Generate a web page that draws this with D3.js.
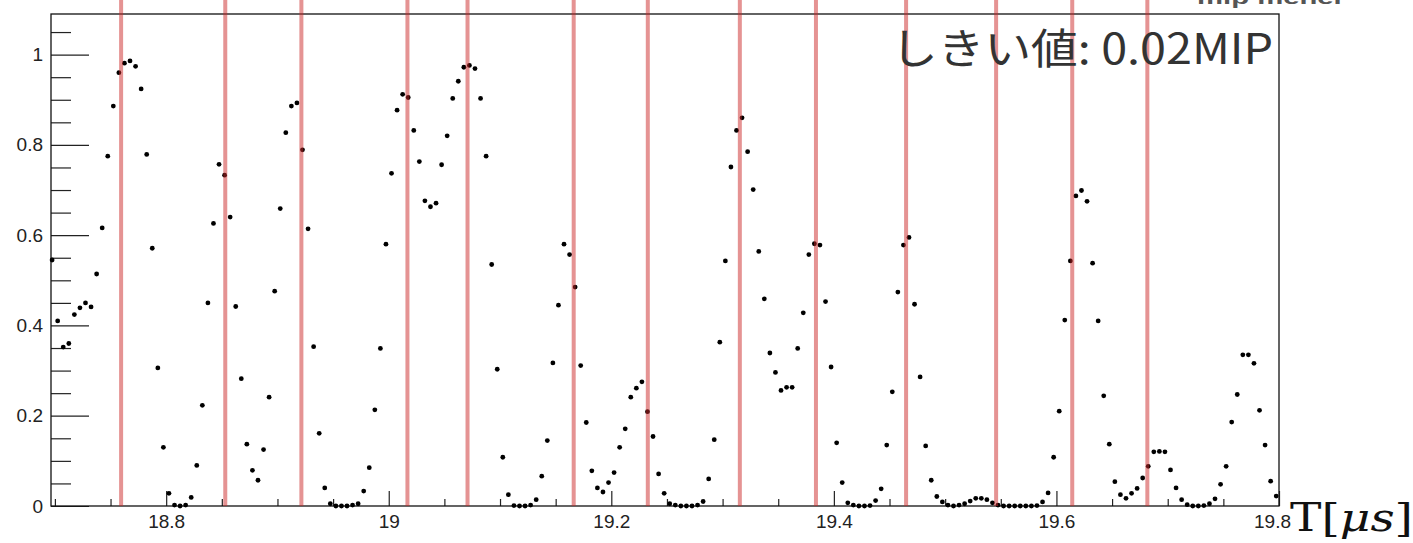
<!DOCTYPE html>
<html>
<head>
<meta charset="utf-8">
<script src="https://cdn.jsdelivr.net/npm/d3@7"></script>
<style>
  body { margin: 0; background: #fff; }
  svg { display: block; font-family: "Liberation Sans", Arial, Helvetica, sans-serif; }
</style>
</head>
<body>
<script>
// histogram: 5 ns bins starting at 18.695 us
var binStart = 18.695, binWidth = 0.005;

// bin contents
var counts = [
  0.545, 0.41, 0.352, 0.36, 0.424, 0.439, 0.45, 0.441, 0.514, 0.616,
  0.775, 0.886, 0.96, 0.981, 0.986, 0.974, 0.924, 0.779, 0.571, 0.306,
  0.13, 0.028, 0.002, 0.0, 0.002, 0.019, 0.09, 0.223, 0.45, 0.626,
  0.757, 0.733, 0.64, 0.442, 0.282, 0.137, 0.079, 0.057, 0.125, 0.241,
  0.476, 0.659, 0.827, 0.886, 0.893, 0.789, 0.614, 0.353, 0.161, 0.04,
  0.005, 0, 0, 0, 0.002, 0.005, 0.033, 0.085, 0.213, 0.349,
  0.58, 0.737, 0.877, 0.912, 0.905, 0.832, 0.763, 0.676, 0.663, 0.671,
  0.756, 0.82, 0.903, 0.941, 0.972, 0.976, 0.969, 0.903, 0.775, 0.535,
  0.303, 0.108, 0.025, 0.001, 0, 0, 0.002, 0.014, 0.066, 0.145,
  0.317, 0.445, 0.58, 0.557, 0.485, 0.311, 0.185, 0.078, 0.04, 0.031,
  0.052, 0.074, 0.13, 0.171, 0.241, 0.261, 0.275, 0.209, 0.154, 0.071,
  0.028, 0.005, 0.002, 0, 0, 0, 0.002, 0.01, 0.06, 0.147,
  0.363, 0.543, 0.751, 0.832, 0.86, 0.785, 0.701, 0.564, 0.459, 0.339,
  0.296, 0.256, 0.263, 0.263, 0.349, 0.428, 0.557, 0.581, 0.578, 0.453,
  0.308, 0.14, 0.052, 0.007, 0.002, 0, 0, 0.001, 0.012, 0.038,
  0.135, 0.253, 0.474, 0.578, 0.595, 0.447, 0.286, 0.133, 0.057, 0.021,
  0.009, 0.002, 0, 0.002, 0.005, 0.011, 0.017, 0.017, 0.014, 0.007,
  0.002, 0, 0, 0, 0, 0, 0, 0.001, 0.009, 0.029,
  0.108, 0.21, 0.412, 0.543, 0.687, 0.699, 0.675, 0.538, 0.41, 0.244,
  0.137, 0.054, 0.025, 0.017, 0.028, 0.039, 0.062, 0.088, 0.12, 0.121,
  0.12, 0.08, 0.04, 0.014, 0.003, 0, 0, 0.001, 0.005, 0.016,
  0.048, 0.088, 0.186, 0.247, 0.335, 0.335, 0.316, 0.212, 0.135, 0.055,
  0.022
];

// red markers (us)
var cutTimes = [18.7595, 18.8531, 18.9215, 19.0168, 19.0708, 19.1662, 19.2328,
                19.3155, 19.3839, 19.4649, 19.5458, 19.6142, 19.6817];

var xMajor = [18.8, 19, 19.2, 19.4, 19.6, 19.8];
var xLabels = ["18.8", "19", "19.2", "19.4", "19.6", "19.8"];
var yMajor = [0, 0.2, 0.4, 0.6, 0.8, 1];
var yLabels = ["0", "0.2", "0.4", "0.6", "0.8", "1"];
var thresholdText = "しきい値: 0.02MIP";

var W = 1413, H = 543;
var plotL = 51, plotR = 1279, plotT = 14, plotB = 506;

var svg = d3.select("body").append("svg")
  .attr("width", W)
  .attr("height", H);

var x = d3.scaleLinear().domain([18.6965, 19.8]).range([plotL, plotR]);
var y = d3.scaleLinear().domain([0, 1.09]).range([plotB, plotT]);

// minor ticks every 0.05
var xMinor = d3.range(0, 23).map(function(i){ return 18.7 + i * 0.05; })
  .filter(function(v){ return !xMajor.some(function(m){ return Math.abs(m - v) < 1e-6; }); });
var yMinor = d3.range(0, 22).map(function(i){ return i * 0.05; })
  .filter(function(v){ return !yMajor.some(function(m){ return Math.abs(m - v) < 1e-6; }); });

// x axis
svg.append("g")
  .attr("transform", "translate(0," + plotB + ")")
  .call(d3.axisBottom(x).tickValues(xMinor).tickSize(-7).tickFormat(""))
  .call(function(g){ g.select(".domain").remove(); });

var xAx = svg.append("g")
  .attr("transform", "translate(0," + plotB + ")")
  .call(d3.axisBottom(x).tickValues(xMajor).tickSize(-15).tickPadding(9)
    .tickFormat(function(d, i){ return xLabels[i]; }));
xAx.select(".domain").remove();
xAx.selectAll("text").attr("font-size", 19).attr("font-family", "Liberation Sans, Arial, sans-serif").attr("fill", "#222");
xAx.selectAll(".tick").filter(function(d, i){ return i === xMajor.length - 1; })
  .select("text").attr("dx", -7);

// y axis
svg.append("g")
  .attr("transform", "translate(" + plotL + ",0)")
  .call(d3.axisLeft(y).tickValues(yMinor).tickSize(-20).tickFormat(""))
  .call(function(g){ g.select(".domain").remove(); });

var yAx = svg.append("g")
  .attr("transform", "translate(" + plotL + ",0)")
  .call(d3.axisLeft(y).tickValues(yMajor).tickSize(-38).tickPadding(8)
    .tickFormat(function(d, i){ return yLabels[i]; }));
yAx.select(".domain").remove();
yAx.selectAll("text").attr("font-size", 19).attr("font-family", "Liberation Sans, Arial, sans-serif").attr("fill", "#222");

svg.selectAll(".tick line").attr("stroke", "#222").attr("stroke-width", 1.2);

// frame
svg.append("rect")
  .attr("x", plotL).attr("y", plotT)
  .attr("width", plotR - plotL).attr("height", plotB - plotT)
  .attr("fill", "none").attr("stroke", "#111").attr("stroke-width", 1.3);

// points
svg.append("g").selectAll("circle")
  .data(counts)
  .enter().append("circle")
    .attr("cx", function(d, i){ return x(binStart + (i + 0.5) * binWidth); })
    .attr("cy", function(d){ return y(d); })
    .attr("r", 2.4)
    .attr("fill", "#000");

// red lines on top
svg.append("g").selectAll("line")
  .data(cutTimes)
  .enter().append("line")
    .attr("x1", function(d){ return x(d); })
    .attr("x2", function(d){ return x(d); })
    .attr("y1", 0)
    .attr("y2", y(0))
    .attr("stroke", "rgb(204,40,40)")
    .attr("stroke-opacity", 0.5)
    .attr("stroke-width", 4);

// stretched text helper
function stretched(str, tx, ty, size, targetW, anchor, family, fill, weight) {
  var t = svg.append("text")
    .attr("font-family", family)
    .attr("font-size", size)
    .attr("font-weight", weight || "normal")
    .attr("fill", fill)
    .attr("text-anchor", anchor)
    .text(str);
  var w = t.node().getComputedTextLength();
  t.attr("transform", "translate(" + tx + "," + ty + ") scale(" + (targetW / w) + ",1)");
  return t;
}

stretched(thresholdText, 1273, 64, 42, 382, "end", "Noto Sans CJK JP, Noto Sans, sans-serif", "#333");

// partly hidden title at the very top
stretched("mip  mener", 1197, 4, 18, 148, "start", "Liberation Sans, Arial, sans-serif", "#555", "bold");

// axis title T[μs]
var tt = svg.append("text")
  .attr("font-family", "DejaVu Serif, Liberation Serif, serif")
  .attr("font-size", 40)
  .attr("fill", "#111");
tt.append("tspan").text("T[");
tt.append("tspan").attr("font-style", "italic").text("μs");
tt.append("tspan").text("]");
var tw = tt.node().getComputedTextLength();
tt.attr("transform", "translate(1290,531) scale(" + (123 / tw) + ",1)");
</script>
</body>
</html>
